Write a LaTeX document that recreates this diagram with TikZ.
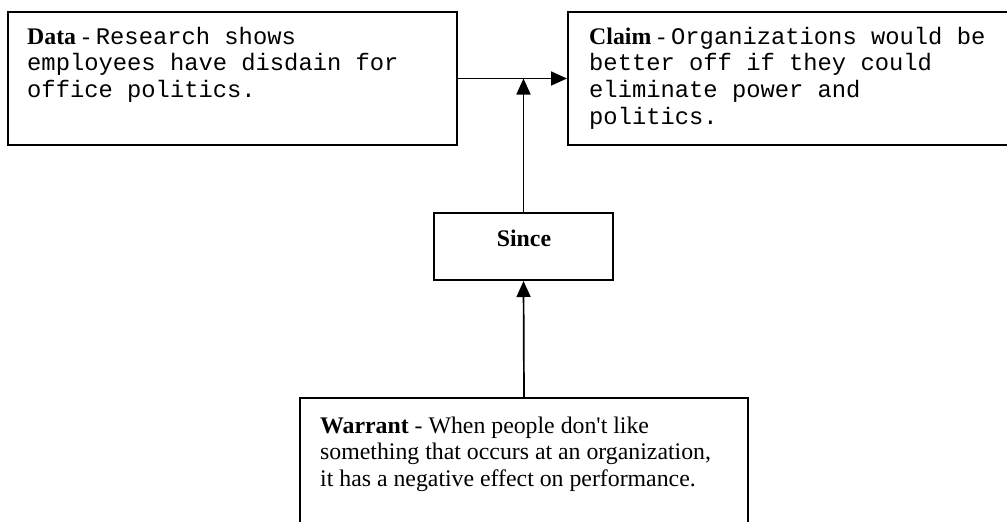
\documentclass[tikz,border=0pt]{standalone}
\usepackage{fontspec}
\setmainfont{Liberation Serif}
\newfontfamily\monofont{Liberation Mono}
\usetikzlibrary{arrows.meta}
\begin{document}
\begin{tikzpicture}[x=1pt,y=-1pt,
  box/.style={draw, line width=2pt, inner sep=0pt, rectangle},
  txt/.style={inner sep=0pt, font=\fontsize{23.8}{26.8}\selectfont},
  conn/.style={line width=1.7pt, -{Triangle[length=16pt,width=14pt]}}]
\useasboundingbox (0,0) rectangle (1007,522);
\clip (0,0) rectangle (1007,522);
% boxes
\node[box, minimum width=449pt, minimum height=133pt] (data) at (232.5,78.5) {};
\node[box, minimum width=452pt, minimum height=133pt] (claim) at (794,78.5) {};
\node[box, minimum width=179pt, minimum height=67pt] (since) at (523.5,246.5) {};
\node[box, minimum width=448pt, minimum height=142pt] (warrant) at (524,469) {};
% texts
\node[txt, anchor=base west] (datatext) at (27,44) {\begin{tabular}[t]{@{}l@{}}\textbf{Data} - {\monofont Research shows}\\ {\monofont employees have disdain for}\\ {\monofont office politics.}\end{tabular}};
\node[txt, anchor=base west] (claimtext) at (589,44) {\begin{tabular}[t]{@{}l@{}}\textbf{Claim} - {\monofont Organizations would be}\\ {\monofont better off if they could}\\ {\monofont eliminate power and}\\ {\monofont politics.}\end{tabular}};
\node[txt, anchor=base] (sincetext) at (524,246) {\textbf{Since}};
\node[txt, anchor=base west] (warranttext) at (320,433) {\begin{tabular}[t]{@{}l@{}}\textbf{Warrant} - When people don\textquotesingle t like\\ something that occurs at an organization,\\ it has a negative effect on performance.\end{tabular}};
% connectors
\coordinate (join) at (since.north |- data.east);
\draw[conn] (data.east) -- (claim.west);
\draw[conn] (since.north) -- (join);
\draw[conn] (warrant.north) -- (since.south);
\end{tikzpicture}
\end{document}
